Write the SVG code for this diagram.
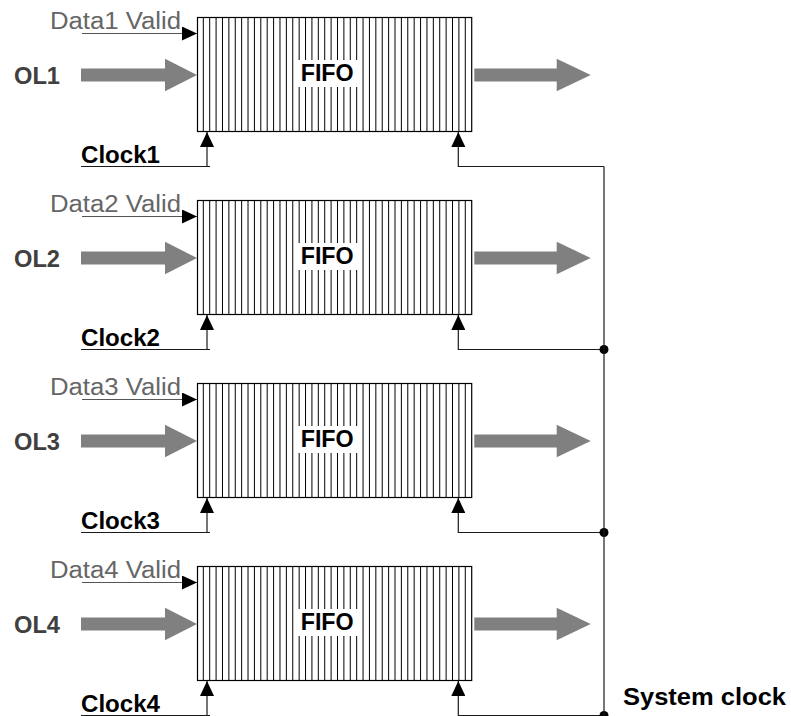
<svg xmlns="http://www.w3.org/2000/svg" xmlns:xlink="http://www.w3.org/1999/xlink" width="791" height="716" viewBox="0 0 791 716">
  <style>
    .lbl { font-family: "Liberation Sans", Arial, sans-serif; font-size: 23px; }
    .bold { font-weight: bold; }
    .valid { fill: #666666; }
    .ol { fill: #404040; }
    .blk { fill: #000000; }
    .wire { fill: none; stroke: #1a1a1a; stroke-width: 1.2; }
    .vwire { fill: none; stroke: #555555; stroke-width: 1.2; }
    .bus { fill: #808080; }
    .frame { fill: #ffffff; stroke: #000000; stroke-width: 1.2; }
    .hatch { fill: none; stroke: #000000; stroke-width: 1; }
  </style>
  <defs>
    <marker id="tri" markerUnits="userSpaceOnUse" markerWidth="15" markerHeight="14" refX="15" refY="7" orient="auto">
      <path d="M0,0 L15,7 L0,14 z" fill="#000000"/>
    </marker>
    <!-- striped FIFO body, drawn at the first row's position -->
    <g id="fifoBody">
      <rect class="frame" x="197.5" y="17.5" width="274.2" height="114"/>
      <path class="hatch" d="M203.3,17.5V131.5 M209.7,17.5V131.5 M216.08,17.5V131.5 M222.47,17.5V131.5 M228.86,17.5V131.5 M235.25,17.5V131.5 M241.64,17.5V131.5 M248.03,17.5V131.5 M254.42,17.5V131.5 M260.81,17.5V131.5 M267.2,17.5V131.5 M273.59,17.5V131.5 M279.98,17.5V131.5 M286.37,17.5V131.5 M292.76,17.5V131.5 M299.15,17.5V131.5 M305.54,17.5V131.5 M311.93,17.5V131.5 M318.32,17.5V131.5 M324.71,17.5V131.5 M331.1,17.5V131.5 M337.49,17.5V131.5 M343.88,17.5V131.5 M350.27,17.5V131.5 M356.66,17.5V131.5 M363.05,17.5V131.5 M369.44,17.5V131.5 M375.83,17.5V131.5 M382.22,17.5V131.5 M388.61,17.5V131.5 M395,17.5V131.5 M401.39,17.5V131.5 M407.78,17.5V131.5 M414.17,17.5V131.5 M420.56,17.5V131.5 M426.95,17.5V131.5 M433.34,17.5V131.5 M439.73,17.5V131.5 M446.12,17.5V131.5 M452.51,17.5V131.5 M458.9,17.5V131.5 M465.29,17.5V131.5"/>
      <rect x="295" y="60" width="64" height="27" fill="#ffffff"/>
      <text class="lbl bold blk" x="300.7" y="80.7" font-size="24" textLength="53" lengthAdjust="spacingAndGlyphs">FIFO</text>
    </g>
    <!-- wide grey data arrows into and out of a FIFO -->
    <polygon id="busIn" class="bus" points="81,68.5 165,68.5 165,58.7 197,75 165,91.3 165,81.5 81,81.5"/>
    <polygon id="busOut" class="bus" points="474.3,68.5 556.7,68.5 556.7,58.7 590.7,75 556.7,91.3 556.7,81.5 474.3,81.5"/>
  </defs>

  <!-- FIFO channels -->
  <g id="fifo1">
    <use xlink:href="#fifoBody"/>
  </g>
  <g id="fifo2" transform="translate(0,183)">
    <use xlink:href="#fifoBody"/>
  </g>
  <g id="fifo3" transform="translate(0,366)">
    <use xlink:href="#fifoBody"/>
  </g>
  <g id="fifo4" transform="translate(0,549)">
    <use xlink:href="#fifoBody"/>
  </g>

  <!-- input links -->
  <g id="ol1"><use xlink:href="#busIn"/><text class="lbl bold ol" x="14" y="84" textLength="46" lengthAdjust="spacingAndGlyphs">OL1</text></g>
  <g id="ol2" transform="translate(0,183)"><use xlink:href="#busIn"/><text class="lbl bold ol" x="14" y="84" textLength="46" lengthAdjust="spacingAndGlyphs">OL2</text></g>
  <g id="ol3" transform="translate(0,366)"><use xlink:href="#busIn"/><text class="lbl bold ol" x="14" y="84" textLength="46" lengthAdjust="spacingAndGlyphs">OL3</text></g>
  <g id="ol4" transform="translate(0,549)"><use xlink:href="#busIn"/><text class="lbl bold ol" x="14" y="84" textLength="46" lengthAdjust="spacingAndGlyphs">OL4</text></g>

  <!-- outputs -->
  <g id="out1"><use xlink:href="#busOut"/></g>
  <g id="out2" transform="translate(0,183)"><use xlink:href="#busOut"/></g>
  <g id="out3" transform="translate(0,366)"><use xlink:href="#busOut"/></g>
  <g id="out4" transform="translate(0,549)"><use xlink:href="#busOut"/></g>

  <!-- signal labels -->
  <g id="valid1"><text class="lbl valid" x="50" y="29.3" textLength="131" lengthAdjust="spacingAndGlyphs">Data1 Valid</text></g>
  <g id="valid2" transform="translate(0,183)"><text class="lbl valid" x="50" y="29.3" textLength="131" lengthAdjust="spacingAndGlyphs">Data2 Valid</text></g>
  <g id="valid3" transform="translate(0,366)"><text class="lbl valid" x="50" y="29.3" textLength="131" lengthAdjust="spacingAndGlyphs">Data3 Valid</text></g>
  <g id="valid4" transform="translate(0,549)"><text class="lbl valid" x="50" y="29.3" textLength="131" lengthAdjust="spacingAndGlyphs">Data4 Valid</text></g>

  <g id="clock1"><text class="lbl bold blk" x="81" y="163" textLength="79" lengthAdjust="spacingAndGlyphs">Clock1</text></g>
  <g id="clock2" transform="translate(0,183)"><text class="lbl bold blk" x="81" y="163" textLength="79" lengthAdjust="spacingAndGlyphs">Clock2</text></g>
  <g id="clock3" transform="translate(0,366)"><text class="lbl bold blk" x="81" y="163" textLength="79" lengthAdjust="spacingAndGlyphs">Clock3</text></g>
  <g id="clock4" transform="translate(0,549)"><text class="lbl bold blk" x="81" y="163" textLength="79" lengthAdjust="spacingAndGlyphs">Clock4</text></g>

  <g id="sysclk"><text class="lbl bold blk" x="623" y="705" textLength="163" lengthAdjust="spacingAndGlyphs">System clock</text></g>

  <!-- wiring -->
  <g id="connectors">
    <g id="row1">
      <path class="vwire" d="M82,33.5 H197" marker-end="url(#tri)"/>
      <path class="wire" d="M81,166.5 H210"/>
      <path class="wire" d="M207,166.5 V132" marker-end="url(#tri)"/>
      <path class="wire" d="M604,166.5 H458.3 V132" marker-end="url(#tri)"/>
    </g>
    <g id="row2" transform="translate(0,183)">
      <path class="vwire" d="M82,33.5 H197" marker-end="url(#tri)"/>
      <path class="wire" d="M81,166.5 H210"/>
      <path class="wire" d="M207,166.5 V132" marker-end="url(#tri)"/>
      <path class="wire" d="M604,166.5 H458.3 V132" marker-end="url(#tri)"/>
      <circle cx="604" cy="166.5" r="4.5" fill="#000000"/>
    </g>
    <g id="row3" transform="translate(0,366)">
      <path class="vwire" d="M82,33.5 H197" marker-end="url(#tri)"/>
      <path class="wire" d="M81,166.5 H210"/>
      <path class="wire" d="M207,166.5 V132" marker-end="url(#tri)"/>
      <path class="wire" d="M604,166.5 H458.3 V132" marker-end="url(#tri)"/>
      <circle cx="604" cy="166.5" r="4.5" fill="#000000"/>
    </g>
    <g id="row4" transform="translate(0,549)">
      <path class="vwire" d="M82,33.5 H197" marker-end="url(#tri)"/>
      <path class="wire" d="M81,166.5 H210"/>
      <path class="wire" d="M207,166.5 V132" marker-end="url(#tri)"/>
      <path class="wire" d="M604,166.5 H458.3 V132" marker-end="url(#tri)"/>
      <circle cx="604" cy="166.5" r="4.5" fill="#000000"/>
    </g>
    <path id="clockBus" class="wire" d="M604,166.5 V716"/>
  </g>
</svg>
